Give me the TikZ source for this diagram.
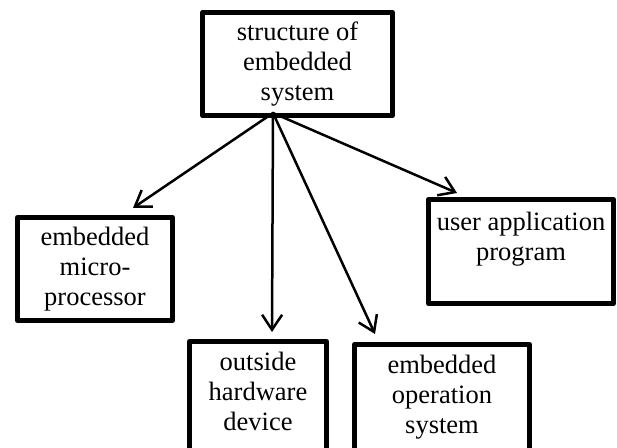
\documentclass[tikz,border=0pt]{standalone}
\usepackage{fontspec}
\setmainfont{Liberation Serif}
\usetikzlibrary{arrows.meta,calc,positioning}

\begin{document}
\begin{tikzpicture}[x=1pt, y=1pt, line cap=round, line join=round,
	>={Straight Barb[length=15pt,width=20pt]},
	box/.style={draw, line width=5pt, align=center, inner sep=0pt,
		font=\fontsize{26.5}{30}\selectfont},
	link/.style={->, line width=2.5pt}]
	
	% page frame, the lower boxes run off its bottom edge
	\path[use as bounding box, clip] (0,0) rectangle (617,447);
	
	% top: the whole system
	\node[box, minimum width=190, minimum height=103] (sys) at (297.5,383)
	{structure of\\embedded\\system};
	
	% the four parts
	\node[box, minimum width=155, minimum height=103] (micro) at (95,178)
	{embedded\\micro-\\processor};
	\node[box, minimum width=137, inner ysep=11pt, anchor=north] (hw) at (258,108)
	{outside\\hardware\\device\\\mbox{}};
	\node[box, minimum width=175, inner ysep=11pt, anchor=north] (os) at (442,105)
	{embedded\\operation\\system\\\mbox{}};
	\node[box, minimum width=185, minimum height=104] (app) at (521,195.5)
	{user application\\program\\\mbox{}};
	
	% all arrows leave from one point under the top box
	\coordinate (hub) at ([xshift=-24.5pt,yshift=5pt]sys.south);
	
	\draw[link] (hub) -- ([xshift=38pt,yshift=7pt]micro.north);
	\draw[link] (hub) -- ([xshift=14pt,yshift=7pt]hw.north);
	\draw[link] (hub) -- ([xshift=-67pt,yshift=8pt]os.north);
	\draw[link] (hub) -- ([xshift=-64pt,yshift=4pt]app.north);
	
\end{tikzpicture}
\end{document}
